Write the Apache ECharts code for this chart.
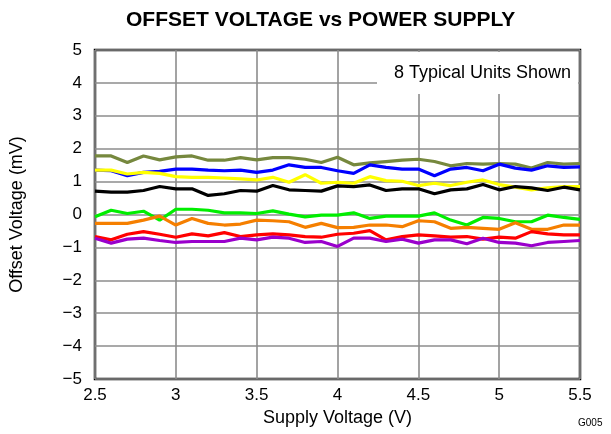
<!DOCTYPE html>
<html><head><meta charset="utf-8">
<script src="https://cdn.jsdelivr.net/npm/echarts@6/dist/echarts.min.js"></script>
<style>html,body{margin:0;padding:0;background:#fff}#c{width:611px;height:434px}</style>
</head><body><div id="c"></div>
<script>
const supplyV = [2.5,2.6,2.7,2.8,2.9,3.0,3.1,3.2,3.3,3.4,3.5,3.6,3.7,3.8,3.9,4.0,4.1,4.2,4.3,4.4,4.5,4.6,4.7,4.8,4.9,5.0,5.1,5.2,5.3,5.4,5.5];
const unitOlive  = [1.78,1.78,1.58,1.78,1.66,1.75,1.78,1.65,1.65,1.73,1.66,1.73,1.73,1.68,1.58,1.74,1.51,1.57,1.61,1.65,1.68,1.61,1.48,1.55,1.53,1.55,1.53,1.41,1.58,1.53,1.55];
const unitBlue   = [1.35,1.33,1.18,1.28,1.31,1.38,1.38,1.35,1.33,1.35,1.28,1.35,1.51,1.43,1.43,1.33,1.25,1.51,1.43,1.38,1.38,1.18,1.38,1.43,1.33,1.53,1.41,1.35,1.48,1.43,1.45];
const unitYellow = [1.35,1.35,1.23,1.28,1.25,1.15,1.13,1.13,1.11,1.08,1.05,1.13,0.98,1.21,0.95,0.98,0.95,1.15,1.03,1.01,0.88,0.95,0.88,0.98,1.05,0.91,0.83,0.75,0.81,0.85,0.85];
const unitBlack  = [0.71,0.68,0.68,0.73,0.85,0.78,0.78,0.58,0.63,0.73,0.71,0.88,0.75,0.73,0.71,0.87,0.85,0.90,0.73,0.78,0.78,0.63,0.75,0.78,0.91,0.75,0.85,0.81,0.73,0.83,0.75];
const unitGreen  = [-0.07,0.13,0.03,0.10,-0.17,0.16,0.16,0.13,0.05,0.05,0.03,0.11,0.01,-0.07,-0.02,-0.02,0.05,-0.12,-0.05,-0.05,-0.05,0.05,-0.17,-0.32,-0.09,-0.12,-0.22,-0.22,-0.02,-0.09,-0.15];
const unitOrange = [-0.27,-0.27,-0.27,-0.17,-0.05,-0.32,-0.12,-0.27,-0.32,-0.29,-0.17,-0.19,-0.22,-0.39,-0.27,-0.40,-0.39,-0.32,-0.32,-0.37,-0.19,-0.22,-0.42,-0.39,-0.42,-0.45,-0.25,-0.45,-0.45,-0.32,-0.32];
const unitRed    = [-0.67,-0.77,-0.60,-0.52,-0.60,-0.69,-0.59,-0.65,-0.55,-0.67,-0.62,-0.59,-0.62,-0.67,-0.69,-0.60,-0.57,-0.49,-0.77,-0.67,-0.62,-0.65,-0.69,-0.67,-0.75,-0.69,-0.72,-0.52,-0.59,-0.62,-0.62];
const unitPurple = [-0.72,-0.87,-0.75,-0.72,-0.79,-0.85,-0.82,-0.82,-0.82,-0.72,-0.77,-0.69,-0.72,-0.85,-0.82,-0.97,-0.72,-0.72,-0.82,-0.75,-0.87,-0.77,-0.77,-0.89,-0.72,-0.85,-0.87,-0.95,-0.85,-0.82,-0.79];
const xTicks = ['2.5','3','3.5','4','4.5','5','5.5'];
const yTicks = ['−5','−4','−3','−2','−1','0','1','2','3','4','5'];

const seriesDefs = [
  ['Olive', unitOlive, '#76883e'],
  ['Blue', unitBlue, '#0000ff'],
  ['Yellow', unitYellow, '#ffff00'],
  ['Black', unitBlack, '#000000'],
  ['Green', unitGreen, '#00ee00'],
  ['Orange', unitOrange, '#f57f00'],
  ['Red', unitRed, '#ff0000'],
  ['Purple', unitPurple, '#9a00cc']
];
const FONT = 'Liberation Sans, Arial, sans-serif';
const chart = echarts.init(document.getElementById('c'), null, {renderer:'canvas'});
chart.setOption({
  animation:false,
  backgroundColor:'#fff',
  title:{text:'OFFSET VOLTAGE vs POWER SUPPLY', left:126, top:10, padding:0,
    textStyle:{fontFamily:FONT, fontWeight:'bold', fontSize:21, color:'#000'}},
  grid:{left:95, right:31, top:50, bottom:55, show:true, borderColor:'#000', borderWidth:2.5, backgroundColor:'transparent'},
  xAxis:{type:'value', min:2.5, max:5.5, interval:0.5,
    name:'Supply Voltage (V)', nameLocation:'middle', nameGap:21,
    nameTextStyle:{fontFamily:FONT, fontSize:18, color:'#000'},
    axisLine:{show:false}, axisTick:{show:false},
    axisLabel:{fontFamily:FONT, fontSize:17, color:'#000', margin:8,
      formatter:v=>xTicks[Math.round((v-2.5)/0.5)]},
    splitLine:{show:true, lineStyle:{color:'#8c8c8c', width:1.6}}},
  yAxis:{type:'value', min:-5, max:5, interval:1,
    name:'Offset Voltage (mV)', nameLocation:'middle', nameGap:69, nameRotate:90,
    nameTextStyle:{fontFamily:FONT, fontSize:18, color:'#000'},
    axisLine:{show:false}, axisTick:{show:false},
    axisLabel:{fontFamily:FONT, fontSize:17, color:'#000', margin:13,
      formatter:v=>yTicks[Math.round(v+5)]},
    splitLine:{show:true, lineStyle:{color:'#8c8c8c', width:1.6}}},
  graphic:[
    {type:'rect', z:50, shape:{x:377, y:52, width:201, height:42}, style:{fill:'#fff'}},
    {type:'text', z:51, left:394, top:64, style:{text:'8 Typical Units Shown', font:'18px '+FONT, fill:'#000'}},
    {type:'text', z:51, left:578, top:418, style:{text:'G005', font:'10px '+FONT, fill:'#000'}}
  ],
  series: seriesDefs.map(([n,d,c])=>({
    name:n, type:'line', data:supplyV.map((x,i)=>[x,d[i]]),
    showSymbol:false, lineStyle:{color:c, width:3.2}, itemStyle:{color:c}, z:5
  }))
});
</script></body></html>
